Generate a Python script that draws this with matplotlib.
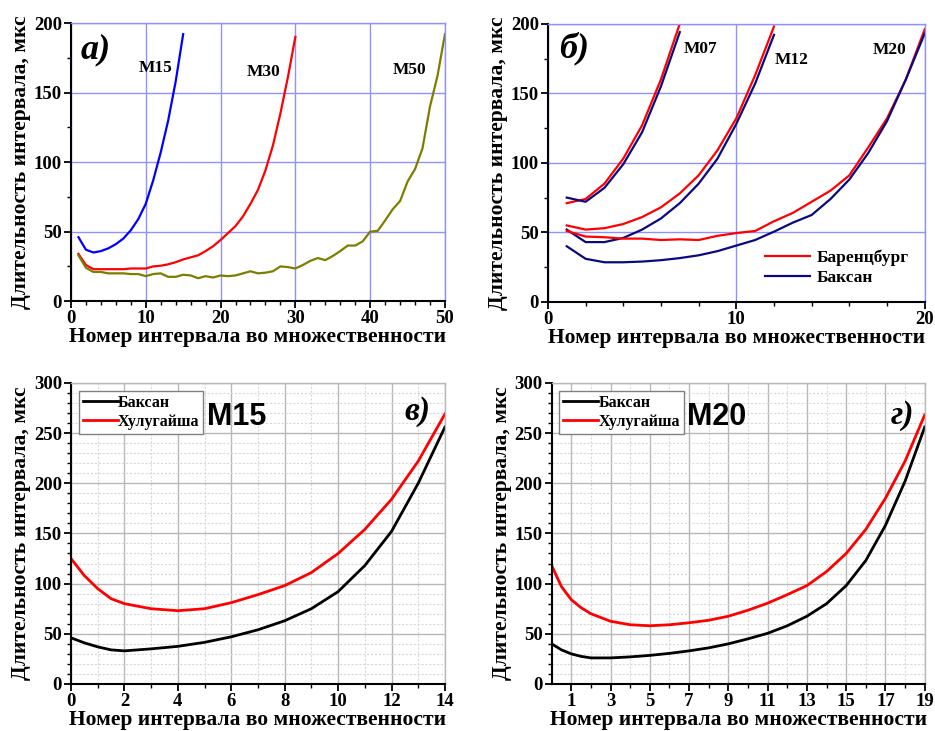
import numpy as np
import matplotlib
matplotlib.use("Agg")
import matplotlib.pyplot as plt
from matplotlib.ticker import MultipleLocator, FixedLocator

plt.rcParams['font.family'] = ['Liberation Serif', 'DejaVu Serif']
plt.rcParams['font.weight'] = 'bold'

# panel a) - interval durations for multiplicities M15, M30, M50
m15_y = [46, 37, 35, 36, 38, 41, 45, 51, 59, 70, 87, 107, 130, 158, 192]
m30_y = [34, 26, 23, 23, 23, 23, 23, 23.5, 23.5, 23.5, 25, 25.5, 26.5, 28, 30,
         31.5, 33, 36, 39.5, 44, 49, 54, 61, 70, 80, 94, 112, 135, 161, 190]
m50_y = [33, 24, 21, 21, 20, 20, 20, 19.5, 19.5, 18, 19.5, 20, 17.5, 17.5, 19,
         18.5, 16.5, 18, 17, 18.5, 18, 18.5, 20, 21.5, 20, 20.5, 21.5, 25, 24.5, 23.5,
         26, 29, 31, 29.5, 32.5, 36, 40, 40, 43, 50, 50.5, 58, 66, 72, 86,
         95, 110, 140, 162, 192]

# panel б) - Баренцбург vs Баксан
b_m07_bar = [71, 74, 85, 103, 127, 160, 200]
b_m07_bak = [75, 72, 82, 99, 122, 155, 194]
b_m12_bar = [55, 52, 53, 56, 61, 68, 78, 91, 109, 132, 163, 198]
b_m12_bak = [52, 43, 43, 46, 52, 60, 71, 85, 103, 128, 157, 192]
b_m20_bar = [51, 47, 46.5, 45.5, 45.5, 44.5, 45, 44.5, 47.5, 49.5, 51, 58, 64,
             72, 80, 91, 111, 132, 160, 196]
b_m20_bak = [40, 31, 28.5, 28.5, 29, 30, 31.5, 33.5, 36.5, 40.5, 44.5, 50.5, 57,
             62.5, 74, 88, 107, 130, 160, 193]

# panel в) - M15, Баксан vs Хулугайша
c_x = [0, 0.5, 1, 1.5, 2, 3, 4, 5, 6, 7, 8, 9, 10, 11, 12, 13, 14]
c_baksan = [46, 41, 37, 34, 33, 35, 37.5, 41.5, 47, 54, 63, 75, 92, 118, 152, 200, 256]
c_hulug = [125, 108, 95, 85, 80, 75, 73, 75, 81, 89, 98, 111, 130, 154, 184, 222, 269]

# panel г) - M20, Баксан vs Хулугайша
d_x = [0, 0.5, 1, 1.5, 2, 3, 4, 5, 6, 7, 8, 9, 10, 11, 12, 13, 14, 15, 16, 17, 18, 19]
d_baksan = [40, 34, 30, 27.5, 26, 26, 27, 28.5, 30.5, 33, 36, 40, 45, 50.5, 58,
            67.5, 80, 98, 123, 158, 202, 256]
d_hulug = [118, 97, 84, 76, 70, 62.5, 59, 58, 59, 61, 63.5, 67.5, 73.5, 80.5, 89,
           98, 112, 130, 154, 185, 222, 268]

XLABEL = "Номер интервала во множественности"
YLABEL = "Длительность интервала, мкс"
BLUEGRID = "#9090ff"
GRAYGRID = "#b8b8b8"
NAVY = "#0a0a80"
OLIVE = "#7d7d00"


def style_axes(ax, grid_color):
    for s in ("left", "bottom"):
        ax.spines[s].set_linewidth(1.5)
    for s in ("top", "right"):
        ax.spines[s].set_color(grid_color)
        ax.spines[s].set_linewidth(1.0)
    ax.tick_params(which="major", direction="out", length=5, width=1.3,
                   labelsize=13.5, pad=1.5, top=False, right=False)
    ax.tick_params(which="minor", direction="out", length=3, width=1.0,
                   top=False, right=False)
    for lab in ax.get_xticklabels() + ax.get_yticklabels():
        lab.set_fontweight("bold")
    ax.set_xlabel(XLABEL, fontsize=15.5, fontweight="bold", labelpad=0)
    ax.set_ylabel(YLABEL, fontsize=15.5, fontweight="bold", labelpad=2)


fig = plt.figure(figsize=(9.35, 7.31), dpi=100)

# ---- a)
ax = fig.add_axes([0.0759, 0.588, 0.400, 0.3805])
ax.plot(range(1, 16), m15_y, color="#0000ff", lw=1.6)
ax.plot(range(1, 31), m30_y, color="#ff0000", lw=1.6)
ax.plot(range(1, 51), m50_y, color=OLIVE, lw=1.6)
ax.set_xlim(0, 50)
ax.set_ylim(0, 200)
ax.xaxis.set_major_locator(MultipleLocator(10))
ax.xaxis.set_minor_locator(MultipleLocator(2))
ax.yaxis.set_major_locator(MultipleLocator(50))
ax.yaxis.set_minor_locator(MultipleLocator(25))
ax.grid(True, which="major", color=BLUEGRID, lw=1.0)
style_axes(ax, BLUEGRID)
ax.text(9.0, 168, "M15", fontsize=12.5, fontweight="bold", va="center")
ax.text(23.5, 165, "M30", fontsize=12.5, fontweight="bold", va="center")
ax.text(43.0, 166, "M50", fontsize=12.5, fontweight="bold", va="center")
ax.text(1.3, 181, "a)", fontsize=26, fontweight="bold", style="italic", va="center")

# ---- б)
ax = fig.add_axes([0.586, 0.587, 0.403, 0.3805])
x07 = range(1, 8)
x12 = range(1, 13)
x20 = range(1, 21)
ax.plot(x07, b_m07_bar, color="#ff0000", lw=1.6, label="Баренцбург")
ax.plot(x07, b_m07_bak, color=NAVY, lw=1.6, label="Баксан")
ax.plot(x12, b_m12_bar, color="#ff0000", lw=1.6)
ax.plot(x12, b_m12_bak, color=NAVY, lw=1.6)
ax.plot(x20, b_m20_bar, color="#ff0000", lw=1.6)
ax.plot(x20, b_m20_bak, color=NAVY, lw=1.6)
ax.set_xlim(0, 20)
ax.set_ylim(0, 200)
ax.xaxis.set_major_locator(MultipleLocator(10))
ax.xaxis.set_minor_locator(MultipleLocator(2))
ax.yaxis.set_major_locator(MultipleLocator(50))
ax.yaxis.set_minor_locator(MultipleLocator(25))
ax.grid(True, which="major", color=BLUEGRID, lw=1.0)
style_axes(ax, BLUEGRID)
ax.text(7.2, 182, "M07", fontsize=12.5, fontweight="bold", va="center")
ax.text(12.05, 174, "M12", fontsize=12.5, fontweight="bold", va="center")
ax.text(17.25, 181, "M20", fontsize=12.5, fontweight="bold", va="center")
ax.text(0.6, 182, "б)", fontsize=26, fontweight="bold", style="italic", va="center")
ax.legend(loc="lower right", bbox_to_anchor=(1.0, 0.0), frameon=False,
          prop={"size": 12.5, "weight": "bold"}, handlelength=2.6,
          handletextpad=0.4, labelspacing=0.25)


def lower_panel(rect, x, bak, hul, xlim, major_x, minor_x, mlabel, mlabel_x,
                plabel, plabel_x, plabel_y):
    ax = fig.add_axes(rect)
    ax.plot(x, bak, color="black", lw=2.0, label="Баксан")
    ax.plot(x, hul, color="#ff0000", lw=2.0, label="Хулугайша")
    ax.set_xlim(*xlim)
    ax.set_ylim(0, 300)
    ax.xaxis.set_major_locator(major_x)
    ax.xaxis.set_minor_locator(minor_x)
    ax.yaxis.set_major_locator(MultipleLocator(50))
    ax.yaxis.set_minor_locator(MultipleLocator(10))
    ax.grid(True, which="major", color=GRAYGRID, lw=1.0)
    ax.grid(True, which="minor", color="#d8d8d8", lw=0.8, ls=(0, (2, 1.5)))
    ax.set_axisbelow(True)
    style_axes(ax, GRAYGRID)
    leg = ax.legend(loc="upper left", bbox_to_anchor=(0.012, 0.985), frameon=True,
                    fancybox=False, edgecolor="#808080", framealpha=1,
                    prop={"size": 11.5, "weight": "bold"}, handlelength=2.2,
                    handletextpad=0.0, labelspacing=0.2, borderpad=0.25,
                    borderaxespad=0.2)
    leg.get_frame().set_linewidth(1.0)
    ax.text(mlabel_x, 0.885, mlabel, transform=ax.transAxes, fontsize=22,
            fontweight="bold", family=["Liberation Sans", "DejaVu Sans"], va="center")
    ax.text(plabel_x, plabel_y, plabel, transform=ax.transAxes, fontsize=24,
            fontweight="bold", style="italic", va="center")
    return ax


lower_panel([0.0759, 0.0643, 0.400, 0.412], c_x, c_baksan, c_hulug, (0, 14),
            MultipleLocator(2), MultipleLocator(1), "M15", 0.365, "в)", 0.893, 0.905)
lower_panel([0.590, 0.0643, 0.399, 0.412], d_x, d_baksan, d_hulug, (0, 19),
            FixedLocator(list(range(1, 20, 2))), FixedLocator(list(range(2, 19, 2))),
            "M20", 0.363, "г)", 0.91, 0.89)

fig.savefig("out.png", dpi=100)
